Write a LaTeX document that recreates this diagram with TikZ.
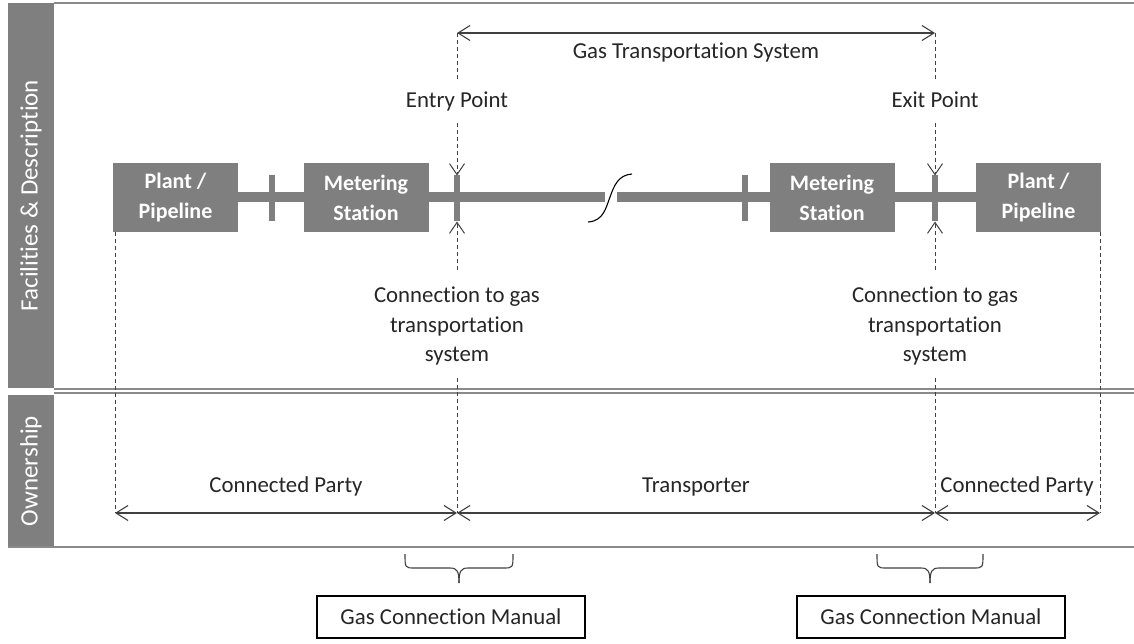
\documentclass[tikz,border=0pt]{standalone}
\usepackage{fontspec}
\setmainfont{Carlito}[Ligatures=NoCommon]
\usetikzlibrary{arrows.meta}
\definecolor{boxgray}{HTML}{7F7F7F}
\definecolor{linegray}{HTML}{8A8A8A}
\definecolor{ink}{HTML}{404040}
\definecolor{txt}{HTML}{262626}
\begin{document}
\begin{tikzpicture}[x=1pt,y=-1pt,
  every node/.style={inner sep=0pt, outer sep=0pt},
  lbl/.style={font=\fontsize{22.8}{29.5}\selectfont, text=txt},
  fac/.style={fill=boxgray, text=white, font=\bfseries\fontsize{22}{30}\selectfont, align=center, minimum width=125pt, minimum height=69pt},
  tickbox/.style={fill=boxgray, minimum width=6pt, minimum height=46pt},
  pipe/.style={draw=boxgray, line width=10pt},
  guide/.style={draw=ink, line width=0.9pt, dash pattern=on 4pt off 3pt},
  tipd/.style={-{Straight Barb[length=11pt,width=15pt,line width=1pt]}},
  dim/.style={draw=ink, line width=1.1pt, {Straight Barb[length=12pt,width=15pt]}-{Straight Barb[length=12pt,width=15pt]}},
  side/.style={text=white, font=\fontsize{25}{30}\selectfont, rotate=90},
  sepline/.style={draw=linegray, line width=1.5pt},
  brace/.style={draw=ink, line width=1.1pt},
  manual/.style={draw=black, line width=1.5pt, font=\fontsize{22.8}{29.5}\selectfont, text=txt, minimum width=268pt, minimum height=42pt}
]
\useasboundingbox (0,0) rectangle (1134,644);
\fill[white] (0,0) rectangle (1134,644);

% frame and sidebar
\fill[boxgray] (8,3) rectangle (54,388);
\fill[boxgray] (8,395) rectangle (54,547);
\node[side] (sideFac) at (31,195.5) {Facilities \& Description};
\node[side] (sideOwn) at (31,471) {Ownership};
\draw[sepline, line width=2.3pt] (54,3) -- (1134,3);
\draw[sepline] (54,389) -- (1134,389);
\draw[sepline] (54,393) -- (1134,393);
\draw[sepline] (8,547) -- (1134,547);

% facilities
\node[fac] (plantL) at (175.5,197.5) {Plant /\\Pipeline};
\node[fac] (meterL) at (366,197.5) {Metering\\Station};
\node[fac] (meterR) at (832,197.5) {Metering\\Station};
\node[fac] (plantR) at (1038.5,197.5) {Plant /\\Pipeline};
\coordinate (brkL) at (605,197);
\coordinate (brkR) at (617,197);
\draw[pipe] (plantL.east |- 0,197) -- (meterL.west |- 0,197);
\draw[pipe] (meterL.east |- 0,197) -- (brkL);
\draw[pipe] (brkR) -- (meterR.west |- 0,197);
\draw[pipe] (meterR.east |- 0,197) -- (plantR.west |- 0,197);
\node[tickbox] (tickA) at (272,198.5) {};
\node[tickbox] (entryT) at (457,198.5) {};
\node[tickbox] (tickB) at (745,198.5) {};
\node[tickbox] (exitT) at (935,198.5) {};
\draw[black, line width=1.1pt] (588,222) .. controls (604,221) and (606,207) .. (610,197) .. controls (614,186) and (618,175) .. (632,174);

% top dimension
\coordinate (gtsL) at (457,33);
\coordinate (gtsR) at (935,33);
\draw[dim] (gtsL) -- (gtsR);
\node[lbl, anchor=base] (gts) at (696,59) {Gas Transportation System};

% entry / exit points
\node[lbl, anchor=base] (entryLbl) at (457,108) {Entry Point};
\node[lbl, anchor=base] (exitLbl) at (935,108) {Exit Point};
\coordinate (eA) at (457,81);
\coordinate (eB) at (457,123);
\coordinate (xA) at (935,81);
\coordinate (xB) at (935,123);
\draw[guide] (gtsL) -- (eA);
\draw[guide] (gtsR) -- (xA);
\draw[guide, tipd] (eB) -- (entryT.north);
\draw[guide, tipd] (xB) -- (exitT.north);
\coordinate (eC) at (457,270);
\coordinate (xC) at (935,270);
\draw[guide, tipd] (eC) -- (entryT.south);
\draw[guide, tipd] (xC) -- (exitT.south);
\node[lbl, align=center, anchor=north] (connE) at (457,287) {Connection to gas\\transportation\\system};
\node[lbl, align=center, anchor=north] (connX) at (935,287) {Connection to gas\\transportation\\system};

% ownership
\coordinate (oL) at (115,513);
\coordinate (oE) at (457,513);
\coordinate (oX) at (935,513);
\coordinate (oR) at (1100,513);
\coordinate (eD) at (457,378);
\coordinate (xD) at (935,378);
\draw[guide] (eD) -- (oE);
\draw[guide] (xD) -- (oX);
\draw[guide] (plantL.south west -| oL) -- (oL);
\draw[guide] (plantR.south east -| oR) -- (oR);
\draw[dim] (oL) -- (oE);
\draw[dim] (oE) -- (oX);
\draw[dim] (oX) -- (oR);
\node[lbl, anchor=base] (cpL) at (286,492) {Connected Party};
\node[lbl, anchor=base] (trans) at (696,492) {Transporter};
\node[lbl, anchor=base] (cpR) at (1017,492) {Connected Party};

% braces
\draw[brace] (405,554) .. controls (405,568) and (405,568) .. (415,568) -- (450,568) .. controls (457,568) and (459,571) .. (459,583);
\draw[brace] (513,554) .. controls (513,568) and (513,568) .. (503,568) -- (468,568) .. controls (461,568) and (459,571) .. (459,583);
\draw[brace] (877,554) .. controls (877,568) and (877,568) .. (887,568) -- (921,568) .. controls (928,568) and (930,571) .. (930,583);
\draw[brace] (983,554) .. controls (983,568) and (983,568) .. (973,568) -- (939,568) .. controls (932,568) and (930,571) .. (930,583);

% manuals
\node[manual] (gcmL) at (451,617) {Gas Connection Manual};
\node[manual] (gcmR) at (931,617) {Gas Connection Manual};
\end{tikzpicture}
\end{document}
